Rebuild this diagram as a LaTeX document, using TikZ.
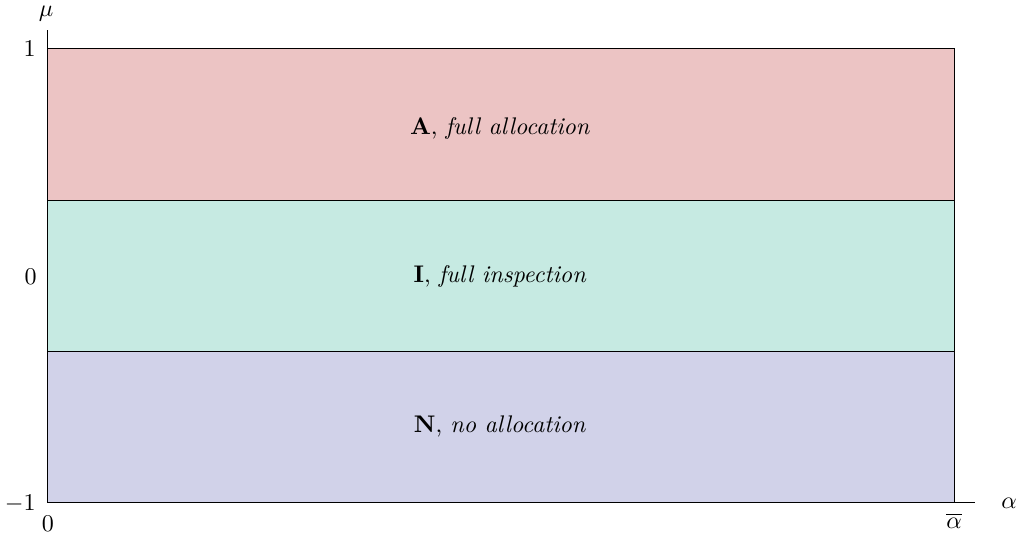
\documentclass[tikz,border=0pt]{standalone}
\usepackage{amsmath}
\definecolor{regA}{RGB}{236,196,196}
\definecolor{regI}{RGB}{198,234,226}
\definecolor{regN}{RGB}{209,210,233}
\begin{document}
\begin{tikzpicture}[x=0.416pt,y=-0.416pt,
  region/.style={draw=black,line width=0.4pt},
  axisline/.style={draw=black,line width=0.4pt},
  lbl/.style={inner sep=0pt,anchor=center}]
\useasboundingbox (0,0) rectangle (1021,534);
\path[region,fill=regA] (47,48) rectangle (954,200);
\path[region,fill=regI] (47,200) rectangle (954,351);
\path[region,fill=regN] (47,351) rectangle (954,502);
\coordinate (o) at (47,502);
\coordinate (ytop) at (47,30);
\coordinate (xend) at (975,502);
\draw[axisline] (o) -- (ytop);
\draw[axisline] (o) -- (xend);
\node[lbl] (mu) at (46,14) {$\mu$};
\node[lbl] (alpha) at (1009,503) {$\alpha$};
\node[lbl,anchor=east] (y1) at (36,49) {$1$};
\node[lbl,anchor=east] (y0) at (37,277) {$0$};
\node[lbl,anchor=east] (ym1) at (36,504) {$-1$};
\node[lbl] (x0) at (48,524) {$0$};
\node[lbl] (xbar) at (954,521) {$\overline{\alpha}$};
\node[lbl] (tA) at (500,128) {$\mathbf{A}$, \textit{full allocation}};
\node[lbl] (tI) at (500,276) {$\mathbf{I}$, \textit{full inspection}};
\node[lbl] (tN) at (500,426) {$\mathbf{N}$, \textit{no allocation}};
\end{tikzpicture}
\end{document}
